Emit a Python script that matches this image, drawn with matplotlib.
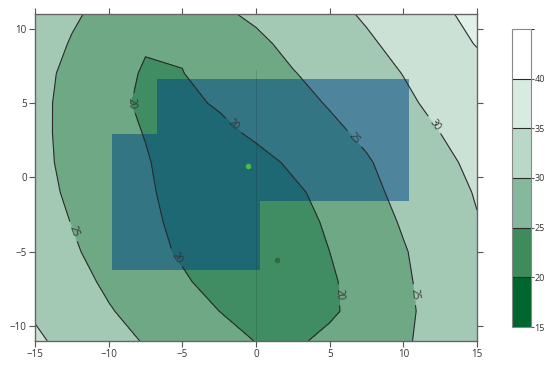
import numpy as np
import matplotlib
matplotlib.use("Agg")
import matplotlib.pyplot as plt
from matplotlib.colors import ListedColormap, BoundaryNorm
from matplotlib.cm import ScalarMappable

plt.rcParams["font.family"] = ["Open Sans", "DejaVu Sans"]

# grid
xs = [-15, -12.5, -10, -7.5, -5, -2.5, 0, 2.5, 5, 7.5, 10, 12.5, 15]
ys = [-11, -9, -7, -5, -3, -1, 1, 3, 5, 7, 9, 11]
zs = [
    [30.7, 28.6, 26.6, 24.7, 23.1, 21.6, 19.9, 19.2, 21.1, 22.8, 24.5, 26.5, 28.8],
    [29.5, 27.4, 25.3, 23.5, 21.8, 20.0, 17.9, 17.6, 19.3, 21.8, 24.2, 26.5, 28.8],
    [28.8, 26.4, 24.3, 22.5, 20.6, 18.3, 17.1, 17.4, 19.4, 22.0, 24.4, 26.7, 29.0],
    [27.8, 25.5, 23.5, 21.6, 19.4, 17.4, 16.8, 17.7, 20.0, 22.4, 24.7, 27.0, 29.2],
    [26.9, 24.9, 23.0, 21.1, 18.8, 17.0, 16.8, 18.1, 20.7, 23.0, 25.4, 27.6, 29.8],
    [26.3, 24.4, 22.6, 20.7, 18.3, 16.9, 17.2, 19.1, 21.6, 23.9, 26.1, 28.2, 30.3],
    [26.0, 24.1, 22.2, 20.4, 17.8, 17.0, 18.3, 20.8, 22.7, 24.6, 26.8, 28.9, 31.1],
    [25.9, 24.0, 21.9, 19.8, 17.6, 18.6, 20.9, 22.5, 24.1, 25.8, 27.9, 30.0, 32.0],
    [26.0, 23.9, 21.5, 19.1, 18.7, 20.6, 22.2, 23.7, 25.3, 27.3, 29.2, 31.1, 33.0],
    [26.1, 24.2, 22.0, 19.5, 19.9, 21.8, 23.3, 24.8, 26.5, 28.3, 30.1, 31.9, 33.7],
    [26.5, 24.8, 22.4, 20.4, 20.5, 22.0, 24.1, 26.1, 27.7, 29.4, 31.2, 33.2, 35.2],
    [26.9, 25.4, 24.1, 23.5, 23.5, 24.3, 25.75, 27.3, 28.9, 30.5, 32.4, 34.3, 36.1],
]
levels = [15, 20, 25, 30, 35, 40, 45]
band_colors = ["#00662f", "#3e8b5b", "#85b89c", "#bad8c8", "#d8ebe1", "#ffffff"]

region_x = [-6.75, 10.4, 10.4, 0.3, 0.3, -9.8, -9.8, -6.75]
region_y = [6.6, 6.6, -1.6, -1.6, -6.25, -6.25, 2.9, 2.9]

pt1 = (-0.55, 0.74)
pt2 = (1.43, -5.57)
guide_x = [0, 0]
guide_y = [-11, 7.2]

X, Y = np.meshgrid(xs, ys)
Z = np.array(zs)

fig = plt.figure(figsize=(5.47, 3.65), dpi=100)
ax = fig.add_axes([0.064, 0.066, 0.808, 0.896])

ax.contourf(X, Y, Z, levels=levels, colors=band_colors, alpha=0.75)
cs = ax.contour(X, Y, Z, levels=levels[1:-1], colors="#2a2a2a", linewidths=0.8)
ax.clabel(cs, fmt="%d", fontsize=7, colors="#333333", inline=True,
          manual=[(-8.4, 5.0), (-1.7, 3.3), (-5.4, -5.4), (5.6, -7.9),
                  (6.8, 2.7), (10.7, -7.9), (-12.3, -3.6), (12.2, 3.6)])

ax.plot(guide_x, guide_y, color="black", alpha=0.15, lw=0.6)
ax.fill(region_x, region_y, color=(0.0, 0.28, 0.52), alpha=0.52, lw=0)

ax.plot(*pt1, "o", color="#4dbb3f", ms=4, mec="none")
ax.plot(*pt2, "o", color="#2f6a3a", ms=4, mec="none")

ax.set_xlim(-15, 15)
ax.set_ylim(-11, 11)
ax.set_xticks([-15, -10, -5, 0, 5, 10, 15])
ax.set_yticks([-10, -5, 0, 5, 10])
ax.tick_params(direction="out", length=4, width=0.8, color="#555555",
               labelsize=7, labelcolor="#333333", top=True, right=True, pad=2)
for s in ax.spines.values():
    s.set_color("#666666")
    s.set_linewidth(1)

cax = fig.add_axes([0.936, 0.104, 0.035, 0.817])
sm = ScalarMappable(norm=BoundaryNorm(levels, 6), cmap=ListedColormap(band_colors))
cbar = fig.colorbar(sm, cax=cax, ticks=levels[:-1])
cbar.add_lines(levels[1:-1], ["#2a2a2a"] * 5, [0.8] * 5)
cbar.outline.set_edgecolor("#888888")
cbar.ax.tick_params(length=2, width=0.8, color="#555555", labelsize=6.5,
                    labelcolor="#333333", pad=0.5)

plt.savefig("out.png", dpi=100)
